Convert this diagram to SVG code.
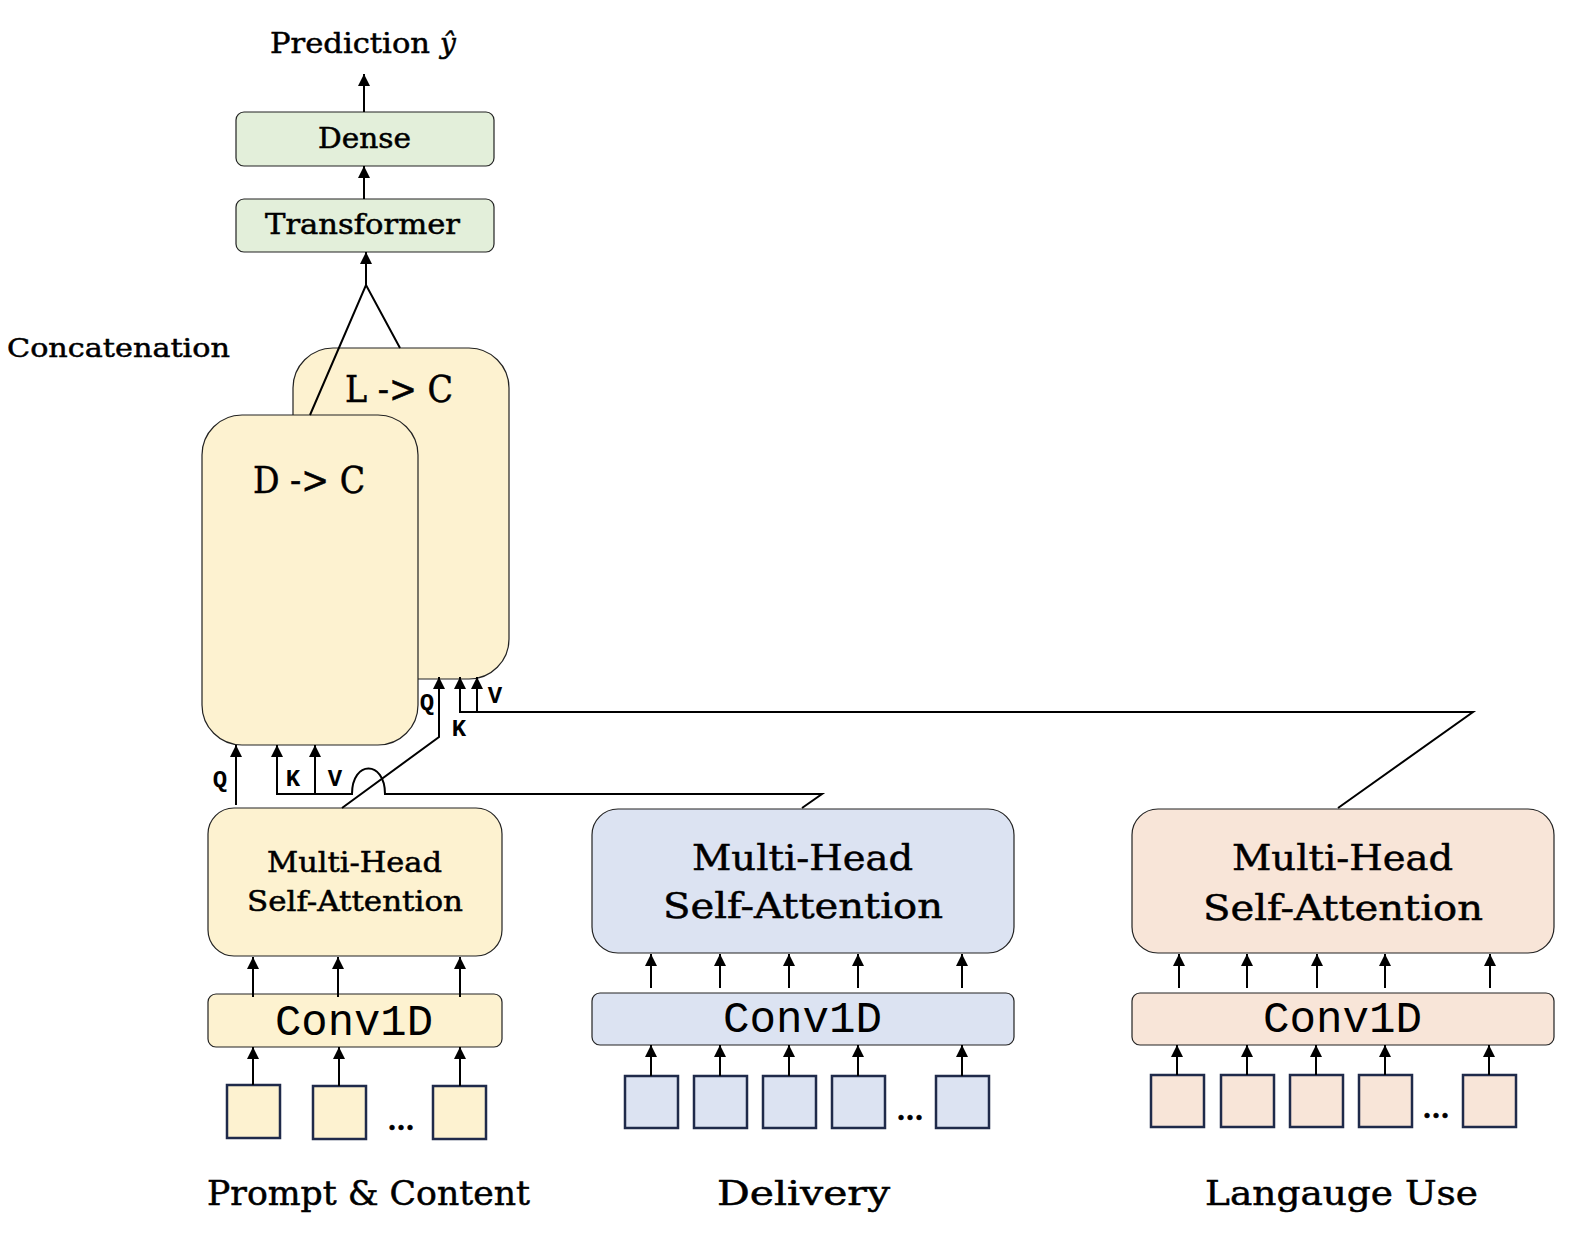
<svg xmlns="http://www.w3.org/2000/svg" width="1578" height="1240" viewBox="0 0 1578 1240">
<defs>
<marker id="ah" viewBox="0 0 12 12" refX="12" refY="6" markerWidth="12" markerHeight="12" markerUnits="userSpaceOnUse" orient="auto">
<path d="M0,0 L12,6 L0,12 z" fill="#000"/>
</marker>
<style>
.t{font-family:"DejaVu Serif","Liberation Serif",serif;fill:#000;stroke:#000;stroke-width:0.5}
.m{font-family:"Liberation Mono","DejaVu Sans Mono",monospace;fill:#000}
.box{stroke:#222;stroke-width:1.2}
.y{fill:#fdf2d0}.g{fill:#e3efda}.b{fill:#dce3f2}.p{fill:#f8e5d8}
.sq{stroke:#1f2a4a;stroke-width:2.5}
.c{fill:none;stroke:#000;stroke-width:2}
.a{fill:none;stroke:#000;stroke-width:2;marker-end:url(#ah)}
</style>
</defs>
<rect width="1578" height="1240" fill="#fff"/>

<g id="prediction">
<text class="t" x="270" y="53" font-size="28" textLength="160" lengthAdjust="spacingAndGlyphs">Prediction</text>
<text class="t" x="440" y="53" font-size="28" font-style="italic">ŷ</text>
</g>
<g id="dense">
<rect class="box g" x="236" y="112" width="258" height="54" rx="8"/>
<text class="t" x="318" y="148" font-size="27" textLength="93" lengthAdjust="spacingAndGlyphs">Dense</text>
</g>
<g id="transformer">
<rect class="box g" x="236" y="199" width="258" height="53" rx="8"/>
<text class="t" x="265" y="234" font-size="27" textLength="195" lengthAdjust="spacingAndGlyphs">Transformer</text>
</g>
<g id="concatenation">
<text class="t" x="7" y="357" font-size="26" textLength="223" lengthAdjust="spacingAndGlyphs">Concatenation</text>
</g>
<g id="l2c">
<rect class="box y" x="293" y="348" width="216" height="331" rx="40"/>
<text class="t" x="345" y="402" font-size="38" textLength="108" lengthAdjust="spacingAndGlyphs">L -&gt; C</text>
</g>
<g id="d2c">
<rect class="box y" x="202" y="415" width="216" height="330" rx="40"/>
<text class="t" x="253" y="493" font-size="38" textLength="112" lengthAdjust="spacingAndGlyphs">D -&gt; C</text>
</g>

<g id="mhsa-prompt">
<rect class="box y" x="208" y="808" width="294" height="148" rx="26"/>
<text class="t" x="267" y="872" font-size="27" textLength="175" lengthAdjust="spacingAndGlyphs">Multi-Head</text>
<text class="t" x="247" y="911" font-size="27" textLength="216" lengthAdjust="spacingAndGlyphs">Self-Attention</text>
</g>
<g id="conv-prompt">
<rect class="box y" x="208" y="994" width="294" height="53" rx="8"/>
<text class="m" x="275" y="1035" font-size="44" textLength="158" lengthAdjust="spacingAndGlyphs">Conv1D</text>
</g>
<g id="inputs-prompt">
<rect class="sq y" x="227" y="1085" width="53" height="53"/>
<rect class="sq y" x="313" y="1086" width="53" height="53"/>
<rect class="sq y" x="433" y="1086" width="53" height="53"/>
<text class="t" x="401" y="1130" font-size="26" font-weight="bold" text-anchor="middle">...</text>
</g>

<g id="mhsa-delivery">
<rect class="box b" x="592" y="809" width="422" height="144" rx="26"/>
<text class="t" x="692" y="870" font-size="36" textLength="221" lengthAdjust="spacingAndGlyphs">Multi-Head</text>
<text class="t" x="663" y="918" font-size="36" textLength="280" lengthAdjust="spacingAndGlyphs">Self-Attention</text>
</g>
<g id="conv-delivery">
<rect class="box b" x="592" y="993" width="422" height="52" rx="8"/>
<text class="m" x="723" y="1032" font-size="44" textLength="159" lengthAdjust="spacingAndGlyphs">Conv1D</text>
</g>
<g id="inputs-delivery">
<rect class="sq b" x="625" y="1076" width="53" height="52"/>
<rect class="sq b" x="694" y="1076" width="53" height="52"/>
<rect class="sq b" x="763" y="1076" width="53" height="52"/>
<rect class="sq b" x="832" y="1076" width="53" height="52"/>
<rect class="sq b" x="936" y="1076" width="53" height="52"/>
<text class="t" x="910" y="1120" font-size="26" font-weight="bold" text-anchor="middle">...</text>
</g>

<g id="mhsa-language">
<rect class="box p" x="1132" y="809" width="422" height="144" rx="26"/>
<text class="t" x="1232" y="870" font-size="36" textLength="221" lengthAdjust="spacingAndGlyphs">Multi-Head</text>
<text class="t" x="1203" y="920" font-size="36" textLength="280" lengthAdjust="spacingAndGlyphs">Self-Attention</text>
</g>
<g id="conv-language">
<rect class="box p" x="1132" y="993" width="422" height="52" rx="8"/>
<text class="m" x="1263" y="1032" font-size="44" textLength="159" lengthAdjust="spacingAndGlyphs">Conv1D</text>
</g>
<g id="inputs-language">
<rect class="sq p" x="1151" y="1075" width="53" height="52"/>
<rect class="sq p" x="1221" y="1075" width="53" height="52"/>
<rect class="sq p" x="1290" y="1075" width="53" height="52"/>
<rect class="sq p" x="1359" y="1075" width="53" height="52"/>
<rect class="sq p" x="1463" y="1075" width="53" height="52"/>
<text class="t" x="1436" y="1118" font-size="26" font-weight="bold" text-anchor="middle">...</text>
</g>

<g id="labels">
<text class="t" x="207" y="1205" font-size="33" textLength="323" lengthAdjust="spacingAndGlyphs">Prompt &amp; Content</text>
<text class="t" x="717" y="1205" font-size="33" textLength="173" lengthAdjust="spacingAndGlyphs">Delivery</text>
<text class="t" x="1205" y="1205" font-size="33" textLength="273" lengthAdjust="spacingAndGlyphs">Langauge Use</text>
</g>

<g id="qkv-labels">
<text class="m" x="220" y="787" font-size="24" font-weight="bold" text-anchor="middle">Q</text>
<text class="m" x="293" y="786" font-size="24" font-weight="bold" text-anchor="middle">K</text>
<text class="m" x="335" y="786" font-size="24" font-weight="bold" text-anchor="middle">V</text>
<text class="m" x="427" y="710" font-size="24" font-weight="bold" text-anchor="middle">Q</text>
<text class="m" x="459" y="736" font-size="24" font-weight="bold" text-anchor="middle">K</text>
<text class="m" x="495" y="703" font-size="24" font-weight="bold" text-anchor="middle">V</text>
</g>

<g id="connectors">
<path class="a" d="M364,112 L364,74"/>
<path class="a" d="M364,199 L364,166"/>
<path class="a" d="M366,285 L366,252"/>
<path class="c" d="M310,415 L366,285 L400,348"/>
<path class="a" d="M236,805 L236,745"/>
<path class="a" d="M802,808 L822,794 L385,794 C385,760 352,760 352,794 L277,794 L277,745"/>
<path class="a" d="M315,794 L315,745"/>
<path class="a" d="M342,808 L439,737 L439,677"/>
<path class="a" d="M1338,808 L1473,712 L460,712 L460,677"/>
<path class="a" d="M477,712 L477,677"/>
<path class="a" d="M253,997 L253,957"/>
<path class="a" d="M338,997 L338,957"/>
<path class="a" d="M460,997 L460,957"/>
<path class="a" d="M253,1085 L253,1047"/>
<path class="a" d="M339,1086 L339,1047"/>
<path class="a" d="M460,1086 L460,1047"/>
<path class="a" d="M651,988 L651,954"/>
<path class="a" d="M720,988 L720,954"/>
<path class="a" d="M789,988 L789,954"/>
<path class="a" d="M858,988 L858,954"/>
<path class="a" d="M962,988 L962,954"/>
<path class="a" d="M651,1076 L651,1045"/>
<path class="a" d="M720,1076 L720,1045"/>
<path class="a" d="M789,1076 L789,1045"/>
<path class="a" d="M858,1076 L858,1045"/>
<path class="a" d="M962,1076 L962,1045"/>
<path class="a" d="M1179,988 L1179,954"/>
<path class="a" d="M1247,988 L1247,954"/>
<path class="a" d="M1317,988 L1317,954"/>
<path class="a" d="M1385,988 L1385,954"/>
<path class="a" d="M1490,988 L1490,954"/>
<path class="a" d="M1177,1075 L1177,1045"/>
<path class="a" d="M1247,1075 L1247,1045"/>
<path class="a" d="M1316,1075 L1316,1045"/>
<path class="a" d="M1385,1075 L1385,1045"/>
<path class="a" d="M1489,1075 L1489,1045"/>
</g>
</svg>
